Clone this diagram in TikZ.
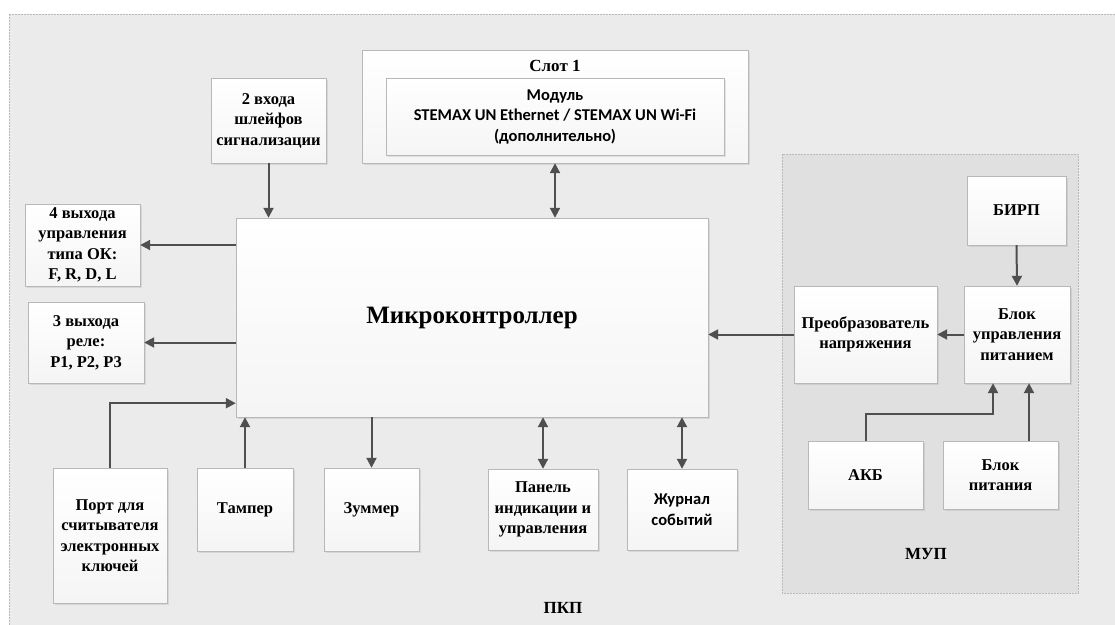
\documentclass[tikz,border=0pt]{standalone}
\usepackage{fontspec}
\setmainfont{Liberation Serif}
\newfontfamily\calibri{Carlito}
\usetikzlibrary{positioning, arrows.meta, shadows}
\definecolor{pkpfill}{HTML}{EBEBEB}
\definecolor{mupfill}{HTML}{E0E0E0}
\definecolor{boxline}{HTML}{B8B8B8}
\definecolor{wire}{HTML}{4F4F4F}
\tikzset{x=1pt, y=-1pt, % one unit is one pixel of the picture, y going down
block/.style={ % Sets the properties for each box
draw=boxline,
top color=white, bottom color=gray!8,
drop shadow={opacity=0.18, shadow xshift=1.5pt, shadow yshift=-1.5pt},
font=\bfseries\fontsize{16.5}{20.5}\selectfont,
align=center, inner sep=1pt},
sansblock/.style={block, font=\calibri\bfseries\fontsize{16.5}{20.5}\selectfont},
frame/.style={ % dashed areas
draw=gray!55, dash pattern=on 2pt off 1pt},
link/.style={ % Sets the properties for each connection
draw=wire, line width=2pt,
-{Triangle[length=10pt,width=10pt]}},
twoway/.style={link, {Triangle[length=10pt,width=10pt]}-{Triangle[length=10pt,width=10pt]}},
title/.style={font=\bfseries\fontsize{17}{20}\selectfont}}

\begin{document}
\begin{tikzpicture}
    \useasboundingbox (0,0) rectangle (1115,624);
    \fill[white] (0,0) rectangle (1115,624);
    \draw[frame, fill=pkpfill] (9,14) rectangle (1130,640);
    \draw[frame, fill=mupfill] (782,154) rectangle (1078,593);

    % Slot with its module
    \node[block, minimum width=386, minimum height=113] (slot) at (555,106.5) {};
    \node[title] (slotname) at (555,66) {Слот 1};
    \node[sansblock, minimum width=338, minimum height=77] (module) at (555,116.5)
        {Модуль\\STEMAX UN Ethernet / STEMAX UN Wi-Fi\\(дополнительно)};

    % PKP
    \node[block, minimum width=472, minimum height=199, font=\bfseries\fontsize{25}{30}\selectfont] (mcu) at (472,317.5) {Микроконтроллер};
    \node[block, minimum width=115, minimum height=85] (loops) at (268.5,120.5) {2 входа\\шлейфов\\сигнализации};
    \node[block, minimum width=115, minimum height=82] (okout) at (82.5,245) {4 выхода\\управления\\типа ОК:\\F, R, D, L};
    \node[block, minimum width=116, minimum height=81] (relay) at (86,342.5) {3 выхода\\реле:\\Р1, Р2, Р3};
    \node[block, minimum width=114, minimum height=135] (reader) at (110,535.5) {Порт для\\считывателя\\электронных\\ключей};
    \node[block, minimum width=96, minimum height=83] (tamper) at (245,509.5) {Тампер};
    \node[block, minimum width=95, minimum height=83] (buzzer) at (371.5,509.5) {Зуммер};
    \node[block, minimum width=110, minimum height=81] (panel) at (543,509.5) {Панель\\индикации и\\управления};
    \node[sansblock, minimum width=110, minimum height=81] (journal) at (682,509.5) {Журнал\\событий};
    \node[title] (pkp) at (563,608) {ПКП};

    % MUP
    \node[block, minimum width=99, minimum height=69] (birp) at (1016.5,210.5) {БИРП};
    \node[block, minimum width=106, minimum height=97] (bup) at (1017,334.5) {Блок\\управления\\питанием};
    \node[block, minimum width=143, minimum height=97] (conv) at (865.5,334.5) {Преобразователь\\напряжения};
    \node[block, minimum width=115, minimum height=68] (akb) at (865.5,475) {АКБ};
    \node[block, minimum width=115, minimum height=68] (psu) at (1000.5,475) {Блок\\питания};
    \node[title] (mup) at (926,554) {МУП};

    \coordinate (akbin) at ([xshift=-24pt]bup.south);
    \coordinate (psuin) at ([xshift=12pt]bup.south);

    \draw[link] (loops.south) -- (loops.south |- mcu.north);
    \draw[twoway] (slot.south) -- (slot.south |- mcu.north);
    \draw[link] (mcu.west |- okout) -- (okout.east);
    \draw[link] (mcu.west |- relay) -- (relay.east);
    \draw[link] (reader.north) |- ([yshift=14pt]mcu.south west);
    \draw[link] (tamper.north) -- (tamper.north |- mcu.south);
    \draw[link] (mcu.south -| buzzer.north) -- (buzzer.north);
    \draw[twoway] (mcu.south -| panel.north) -- (panel.north);
    \draw[twoway] (mcu.south -| journal.north) -- (journal.north);

    \draw[link] (conv.west) -- (conv.west -| mcu.east);
    \draw[link] (bup.west) -- (conv.east);
    \draw[link] (birp.south) -- (bup.north);
    \draw[link] (akb.north) -- ++(0,-27) -| (akbin);
    \draw[link] (psu.north -| psuin) -- (psuin);

\end{tikzpicture}
\end{document}
